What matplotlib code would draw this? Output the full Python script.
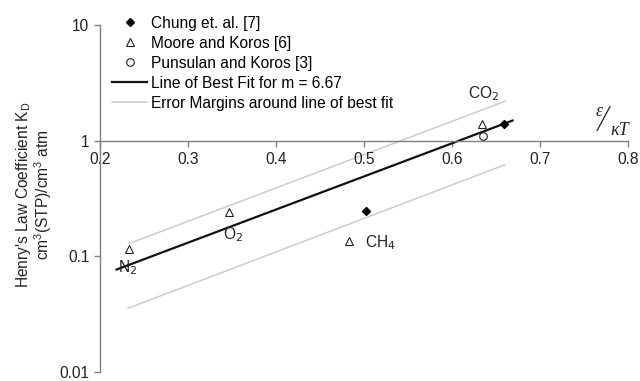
import matplotlib
matplotlib.use("Agg")
import matplotlib.pyplot as plt
from matplotlib.lines import Line2D

plt.rcParams['font.family'] = ['Liberation Sans', 'DejaVu Sans']

# Data
chung_x = [0.659, 0.502]
chung_y = [1.40, 0.245]
moore_x = [0.233, 0.347, 0.483, 0.634]
moore_y = [0.117, 0.24, 0.135, 1.40]
puns_x = [0.635]
puns_y = [1.10]
fit_x = [0.219, 0.669]
fit_y = [0.077, 1.50]
up_x = [0.233, 0.661]
up_y = [0.129, 2.21]
lo_x = [0.232, 0.660]
lo_y = [0.0356, 0.62]
gas_labels = ["CO$_2$", "O$_2$", "N$_2$", "CH$_4$"]
gas_x = [0.636, 0.351, 0.232, 0.519]
gas_y = [2.55, 0.153, 0.080, 0.132]
x_ticks = [0.2, 0.3, 0.4, 0.5, 0.6, 0.7, 0.8]
y_ticks = [0.01, 0.1, 1, 10]
y_ticklabels = ["0.01", "0.1", "1", "10"]

FS = 11.2
fig = plt.figure(figsize=(6.4, 3.81), dpi=100)
ax = fig.add_axes([0.156, 0.0236, 0.825, 0.910])
ax.set_yscale('log')
ax.set_xlim(0.2, 0.8)
ax.set_ylim(0.01, 10)

spine_c = '#808080'
ax.spines['top'].set_visible(False)
ax.spines['right'].set_visible(False)
ax.spines['bottom'].set_position(('data', 1))
for s in ['left', 'bottom']:
    ax.spines[s].set_color(spine_c)
    ax.spines[s].set_linewidth(1.0)

ax.set_xticks(x_ticks)
ax.set_xticklabels([f"{v:g}" for v in x_ticks])
ax.set_yticks(y_ticks)
ax.set_yticklabels(y_ticklabels)
ax.yaxis.set_minor_locator(matplotlib.ticker.NullLocator())
ax.tick_params(axis='both', colors=spine_c, labelcolor='#222222', labelsize=FS, length=4, width=1)
ax.tick_params(axis='x', pad=4)

ax.plot(up_x, up_y, color='#cccccc', lw=1.1, label='Error Margins around line of best fit', zorder=1)
ax.plot(lo_x, lo_y, color='#cccccc', lw=1.1, zorder=1)
ax.plot(fit_x, fit_y, color='#111111', lw=1.6, label='Line of Best Fit for m = 6.67', zorder=2)
ax.plot(chung_x, chung_y, 'D', color='black', ms=4, ls='none', label='Chung et. al. [7]', zorder=3)
ax.plot(moore_x, moore_y, '^', mfc='white', mec='#222222', mew=0.8, ms=5.5, ls='none', label='Moore and Koros [6]', zorder=3)
ax.plot(puns_x, puns_y, 'o', mfc='white', mec='#222222', mew=0.8, ms=5.5, ls='none', label='Punsulan and Koros [3]', zorder=3)

h, l = ax.get_legend_handles_labels()
order = [2, 3, 4, 1, 0]
leg = ax.legend([h[i] for i in order], [l[i] for i in order], loc='upper left',
                bbox_to_anchor=(0.012, 1.045), frameon=False, fontsize=FS,
                handlelength=2.2, handletextpad=0.3, labelspacing=0.32, borderaxespad=0)

for t, x, y in zip(gas_labels, gas_x, gas_y):
    ax.text(x, y, t, fontsize=FS, ha='center', va='center', color='#222222')

# x-axis quantity label: epsilon / kappa T (slanted fraction)
serif = dict(family='Liberation Serif', style='italic', color='#222222', ha='center', va='center')
ax.text(0.7675, 1.80, "ε", fontsize=13, **serif)
ax.text(0.791, 1.24, "κT", fontsize=13, **serif)
ax.add_line(Line2D([0.942, 0.966], [0.697, 0.765], transform=ax.transAxes,
                   color='#222222', lw=0.9, clip_on=False))

fig.text(0.036, 0.49, "Henry's Law Coefficient K$_\\mathregular{D}$", rotation=90, ha='center', va='center', fontsize=FS, color='#222222')
fig.text(0.067, 0.49, "cm$^\\mathregular{3}$(STP)/cm$^\\mathregular{3}$ atm", rotation=90, ha='center', va='center', fontsize=FS, color='#222222')

fig.savefig('out.png', dpi=100)
